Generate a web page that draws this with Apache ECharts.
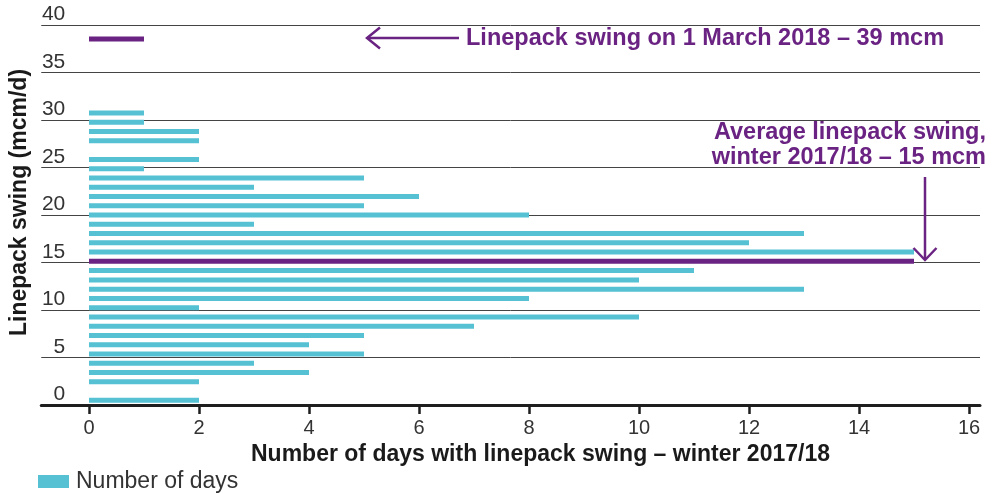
<!DOCTYPE html>
<html>
<head>
<meta charset="utf-8">
<script src="https://cdn.jsdelivr.net/npm/echarts@6/dist/echarts.min.js"></script>
<style>
  html, body { margin: 0; padding: 0; background: #ffffff; }
  #chart { width: 997px; height: 494px; }
</style>
</head>
<body>
<div id="chart"></div>
<script>
// ---- Data ----
// Linepack swing categories (mcm/d), 0..40
const swingCategories = ['0','1','2','3','4','5','6','7','8','9','10','11','12','13','14','15','16','17','18','19','20','21','22','23','24','25','26','27','28','29','30','31','32','33','34','35','36','37','38','39','40'];
// Number of days with each linepack swing – winter 2017/18
const daysPerSwing = [2,0,2,4,3,5,4,5,7,10,2,8,13,10,11,0,15,12,13,3,8,5,6,3,5,1,2,0,2,2,1,1,0,0,0,0,0,0,0,0,0];
// Highlighted values
const averageSwing = '15';      // average linepack swing, winter 2017/18 (mcm)
const averageMarkerDays = 15;   // extent of the average marker on the days axis
const marchSwing = '39';        // linepack swing on 1 March 2018 (mcm)
const marchDays = 1;
// Axis ticks
const yTicks = { min: 0, max: 40, interval: 5 };
const xTicks = { min: 0, max: 16, interval: 2 };

const PURPLE = '#6a2382';
const CYAN = '#55c1d3';
const FONT = 'Liberation Sans';

const highlight = swingCategories.map(c => {
  if (c === averageSwing) return averageMarkerDays;
  if (c === marchSwing) return marchDays;
  return '-';
});
const cyanData = daysPerSwing.map(v => v === 0 ? '-' : v);

const chart = echarts.init(document.getElementById('chart'), null, { renderer: 'canvas' });

const option = {
  animation: false,
  backgroundColor: '#ffffff',
  textStyle: { fontFamily: FONT },
  grid: [
    { left: 31, right: 17, top: 25, bottom: 89 },
    { left: 89, right: 28, top: 25, bottom: 89 }
  ],
  xAxis: [
    {
      gridIndex: 0, type: 'value', min: 0, max: 1,
      axisLine: { show: true, lineStyle: { color: '#1e1e1e', width: 3 } },
      axisTick: { show: false }, axisLabel: { show: false }, splitLine: { show: false }
    },
    {
      gridIndex: 1, type: 'value', min: xTicks.min, max: xTicks.max, interval: xTicks.interval,
      axisLine: { show: false },
      axisTick: { show: true, length: 9, lineStyle: { color: '#1e1e1e', width: 2.5 } },
      axisLabel: { fontSize: 20, color: '#333', margin: 13, fontFamily: FONT },
      splitLine: { show: false },
      name: 'Number of days with linepack swing – winter 2017/18',
      nameLocation: 'middle', nameGap: 36,
      nameTextStyle: { fontSize: 23, fontWeight: 'bold', color: '#1a1a1a', fontFamily: FONT, padding: [0, 0, 0, 23] }
    }
  ],
  yAxis: [
    {
      gridIndex: 0, type: 'value', min: yTicks.min, max: yTicks.max, interval: yTicks.interval,
      axisLine: { show: false }, axisTick: { show: false },
      axisLabel: { inside: true, fontSize: 21, color: '#333', margin: 24, verticalAlign: 'bottom', align: 'right', fontFamily: FONT },
      splitLine: { show: true, lineStyle: { color: '#444', width: 1 } },
      name: 'Linepack swing (mcm/d)', nameLocation: 'middle', nameGap: 2,
      nameTextStyle: { fontSize: 23, fontWeight: 'bold', color: '#1a1a1a', fontFamily: FONT, padding: [0, 0, 0, 25] }
    },
    {
      gridIndex: 1, type: 'category', data: swingCategories, show: false, boundaryGap: true
    }
  ],
  legend: {
    data: ['Number of days'],
    left: 33, top: 465,
    itemWidth: 31, itemHeight: 13,
    icon: 'rect',
    textStyle: { fontSize: 23, color: '#333', fontFamily: FONT, padding: [0, 0, 0, 2] }
  },
  series: [
    {
      name: 'Number of days', type: 'bar', xAxisIndex: 1, yAxisIndex: 1,
      data: cyanData, barWidth: 5, itemStyle: { color: CYAN }, z: 3
    },
    {
      name: 'Highlight', type: 'bar', xAxisIndex: 1, yAxisIndex: 1,
      data: highlight, barWidth: 5, barGap: '-100%', itemStyle: { color: PURPLE }, z: 4
    }
  ],
  graphic: [
    { type: 'line', shape: { x1: 459, y1: 38, x2: 367, y2: 38 }, style: { stroke: PURPLE, lineWidth: 2.5 }, z: 10 },
    { type: 'polyline', shape: { points: [[380, 27.5], [367, 38], [380, 48.5]] }, style: { stroke: PURPLE, lineWidth: 2.5, fill: null }, z: 10 },
    { type: 'text', x: 466, y: 39, style: { text: 'Linepack swing on 1 March 2018 – 39 mcm', font: 'bold 23.5px "Liberation Sans"', fill: PURPLE, verticalAlign: 'middle', align: 'left' }, z: 10 },
    { type: 'text', x: 986, y: 133, style: { text: 'Average linepack swing,', font: 'bold 23.5px "Liberation Sans"', fill: PURPLE, verticalAlign: 'middle', align: 'right' }, z: 10 },
    { type: 'text', x: 986, y: 157.5, style: { text: 'winter 2017/18 – 15 mcm', font: 'bold 23.5px "Liberation Sans"', fill: PURPLE, verticalAlign: 'middle', align: 'right' }, z: 10 },
    { type: 'line', shape: { x1: 925, y1: 177, x2: 925, y2: 260 }, style: { stroke: PURPLE, lineWidth: 2.5 }, z: 10 },
    { type: 'polyline', shape: { points: [[913.5, 248], [925, 260], [936.5, 248]] }, style: { stroke: PURPLE, lineWidth: 2.5, fill: null }, z: 10 }
  ]
};
chart.setOption(option);
</script>
</body>
</html>
